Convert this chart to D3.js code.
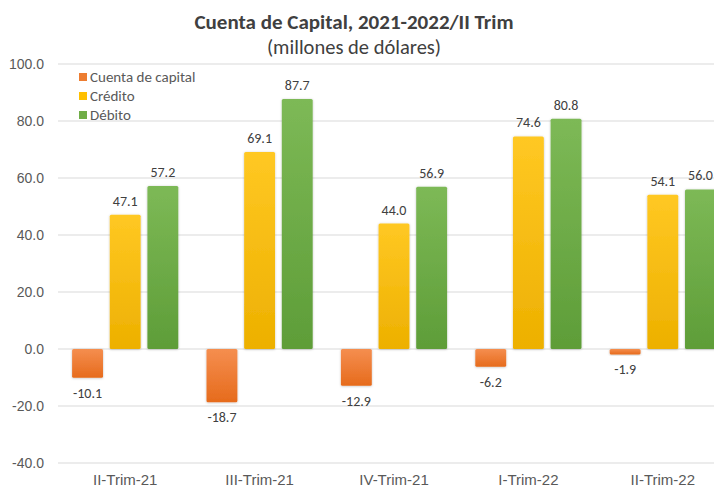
<!DOCTYPE html>
<html>
<head>
<meta charset="utf-8">
<script src="https://cdn.jsdelivr.net/npm/d3@7"></script>
<style>
  body { margin: 0; background: #fff; }
  svg { display: block; font-family: Carlito, Calibri, "Open Sans", sans-serif; }
</style>
</head>
<body>
<svg id="chart" width="714" height="492"></svg>
<script>
const categories = ["II-Trim-21", "III-Trim-21", "IV-Trim-21", "I-Trim-22", "II-Trim-22"];
const seriesNames = ["Cuenta de capital", "Crédito", "Débito"];
const cuentaCapital = [-10.1, -18.7, -12.9, -6.2, -1.9];
const credito = [47.1, 69.1, 44.0, 74.6, 54.1];
const debito = [57.2, 87.7, 56.9, 80.8, 56.0];
const yTicks = [-40, -20, 0, 20, 40, 60, 80, 100];

const width = 714, height = 492;
const svg = d3.select("#chart");
const fmt = function(d){ return d3.format(".1f")(d).replace("\u2212", "-"); };

// gradients, light on top like the Excel fill
const colors = [
    {id: "gOrange", top: "#F58E4F", bottom: "#E66B1C", key: "#ED7D31"},
    {id: "gYellow", top: "#FFC823", bottom: "#EDB000", key: "#FFC000"},
    {id: "gGreen",  top: "#7DB956", bottom: "#5E9D38", key: "#70AD47"}
];
const defs = svg.append("defs");
colors.forEach(function(c){
    const g = defs.append("linearGradient").attr("id", c.id)
        .attr("x1", 0).attr("y1", 0).attr("x2", 0).attr("y2", 1);
    g.append("stop").attr("offset", "0%").attr("stop-color", c.top);
    g.append("stop").attr("offset", "100%").attr("stop-color", c.bottom);
});
const shadow = defs.append("filter").attr("id", "shadow")
    .attr("x", "-20%").attr("y", "-20%").attr("width", "140%").attr("height", "140%");
shadow.append("feDropShadow").attr("dx", 0).attr("dy", 0.5).attr("stdDeviation", 1)
    .attr("flood-color", "#000").attr("flood-opacity", 0.25);

const x = d3.scaleBand()
    .domain(categories)
    .range([58, 730])
    .paddingInner(0.21)
    .paddingOuter(0.105);

const xSub = d3.scaleBand()
    .domain(seriesNames)
    .range([0, x.bandwidth()])
    .paddingInner(0.18);

const y = d3.scaleLinear()
    .domain([-40, 100])
    .range([463, 64]);

// gridlines
svg.append("g")
    .selectAll("line")
    .data(yTicks)
    .enter()
    .append("line")
        .attr("x1", 58)
        .attr("x2", width)
        .attr("y1", function(d){ return y(d); })
        .attr("y2", function(d){ return y(d); })
        .attr("stroke", "#D9D9D9")
        .attr("stroke-width", 1);

// y axis labels
const yAxis = svg.append("g")
    .attr("transform", "translate(44, 0)")
    .call(d3.axisLeft(y).tickValues(yTicks).tickSize(0).tickPadding(0).tickFormat(fmt));
yAxis.select(".domain").remove();
yAxis.selectAll("text")
    .attr("fill", "#595959")
    .style("font-size", "14px")
    .style("font-family", null);

// x axis labels
const xAxis = svg.append("g")
    .attr("transform", "translate(0, 472)")
    .call(d3.axisBottom(x).tickSize(0).tickPadding(0));
xAxis.select(".domain").remove();
xAxis.selectAll("text")
    .attr("fill", "#595959")
    .attr("dy", "0.85em")
    .style("font-size", "15px")
    .style("font-family", null);

const seriesData = [cuentaCapital, credito, debito];

seriesData.forEach(function(values, si){
    const g = svg.append("g");
    g.selectAll("rect")
        .data(values)
        .enter()
        .append("rect")
            .attr("x", function(d, i){ return x(categories[i]) + xSub(seriesNames[si]); })
            .attr("y", function(d){ return y(Math.max(0, d)); })
            .attr("width", xSub.bandwidth())
            .attr("height", function(d){ return Math.abs(y(d) - y(0)); })
            .attr("rx", 1.5)
            .attr("fill", "url(#" + colors[si].id + ")")
            .attr("filter", "url(#shadow)");

    g.selectAll("text")
        .data(values)
        .enter()
        .append("text")
            .attr("x", function(d, i){ return x(categories[i]) + xSub(seriesNames[si]) + xSub.bandwidth() / 2; })
            .attr("y", function(d){ return d >= 0 ? y(d) - 9 : y(d) + 20; })
            .attr("text-anchor", "middle")
            .attr("fill", "#404040")
            .style("font-size", "14px")
            .text(fmt);
});

// legend
const legend = svg.append("g").attr("transform", "translate(79, 77)");
seriesNames.forEach(function(name, i){
    legend.append("rect")
        .attr("x", 0)
        .attr("y", i * 19 - 4)
        .attr("width", 8)
        .attr("height", 8)
        .attr("fill", colors[i].key);
    legend.append("text")
        .attr("x", 11)
        .attr("y", i * 19)
        .attr("dy", "0.35em")
        .attr("fill", "#595959")
        .style("font-size", "15px")
        .text(name);
});

// titles
svg.append("text")
    .attr("x", 354)
    .attr("y", 29)
    .attr("text-anchor", "middle")
    .attr("fill", "#404040")
    .style("font-size", "21px")
    .style("font-weight", "bold")
    .text("Cuenta de Capital, 2021-2022/II Trim");

svg.append("text")
    .attr("x", 354)
    .attr("y", 54)
    .attr("text-anchor", "middle")
    .attr("fill", "#404040")
    .style("font-size", "20.5px")
    .text("(millones de dólares)");
</script>
</body>
</html>
